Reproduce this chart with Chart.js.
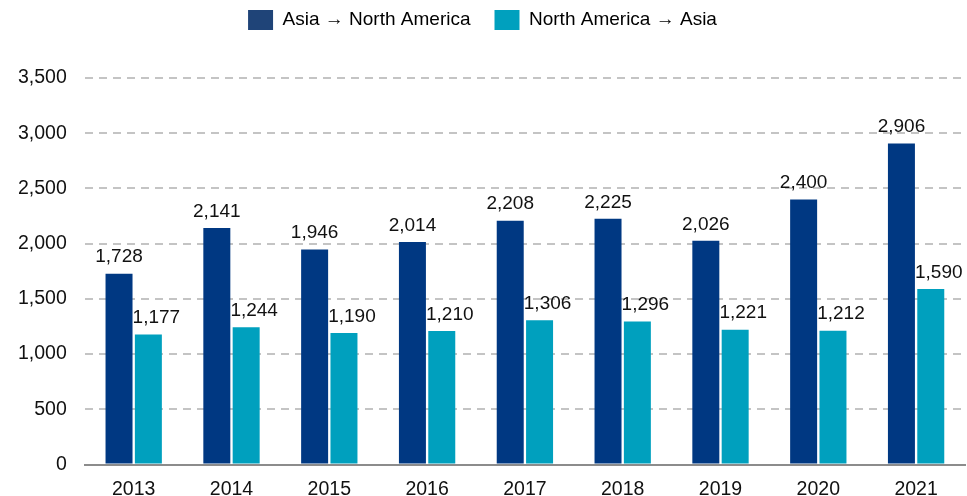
<!DOCTYPE html>
<html>
<head>
<meta charset="utf-8">
<script src="https://cdn.jsdelivr.net/npm/chart.js@4.4.0/dist/chart.umd.min.js"></script>
<style>
  html, body { margin: 0; padding: 0; background: #fff; }
  #wrap { width: 967px; height: 496px; }
</style>
</head>
<body>
<div id="wrap"><canvas id="flowChart"></canvas></div>
<script>
var years = ['2013', '2014', '2015', '2016', '2017', '2018', '2019', '2020', '2021'];
var asiaToNA = [1728, 2141, 1946, 2014, 2208, 2225, 2026, 2400, 2906];
var naToAsia = [1177, 1244, 1190, 1210, 1306, 1296, 1221, 1212, 1590];
var seriesNames = ['Asia \u2192 North America', 'North America \u2192 Asia'];

var FONT = '"Liberation Sans", Arial, sans-serif';

// labels above each bar (the teal ones sit a little to the right)
var labelShift = [0, 8];
var valueLabels = {
    id: 'valueLabels',
    afterDatasetsDraw: function(chart) {
        var c = chart.ctx;
        c.save();
        c.font = '19px ' + FONT;
        c.fillStyle = '#111';
        c.textAlign = 'center';
        c.textBaseline = 'bottom';
        chart.data.datasets.forEach(function(ds, i) {
            chart.getDatasetMeta(i).data.forEach(function(bar, j) {
                c.fillText(ds.data[j].toLocaleString('en-US'), bar.x + labelShift[i], bar.y - 7);
            });
        });
        c.restore();
    }
};

// make the legend block taller so the plot starts lower
var legendHeight = {
    id: 'legendHeight',
    beforeInit: function(chart) {
        var fit = chart.legend.fit;
        chart.legend.fit = function() {
            fit.bind(chart.legend)();
            this.height = 92;
        };
    }
};

var legendColors = ['#1F4478', '#00A0BE'];

new Chart(document.getElementById('flowChart'), {
    type: 'bar',
    data: {
        labels: years,
        datasets: [{
            label: seriesNames[0],
            data: asiaToNA,
            backgroundColor: '#003882'
        }, {
            label: seriesNames[1],
            data: naToAsia,
            backgroundColor: '#00A0BE'
        }]
    },
    options: {
        responsive: true,
        maintainAspectRatio: false,
        animation: false,
        layout: { padding: { left: 0, right: 2, top: -14, bottom: -18 } },
        datasets: {
            bar: { categoryPercentage: 0.6, barPercentage: 0.92 }
        },
        scales: {
            x: {
                grid: { display: false, drawTicks: false },
                border: { display: true, color: '#8c8c8c', width: 2 },
                ticks: {
                    color: '#111',
                    padding: 15,
                    font: { family: FONT, size: 19.5, lineHeight: 1 }
                }
            },
            y: {
                min: 0,
                max: 3500,
                ticks: {
                    stepSize: 500,
                    color: '#111',
                    padding: 18,
                    font: { family: FONT, size: 19.5 },
                    callback: function(value) { return value.toLocaleString('en-US'); }
                },
                grid: {
                    color: '#c4c4c4',
                    lineWidth: 2,
                    drawTicks: false
                },
                border: { display: false, dash: [8, 6] }
            }
        },
        plugins: {
            legend: {
                position: 'top',
                labels: {
                    boxWidth: 25,
                    boxHeight: 20,
                    padding: 24,
                    color: '#111',
                    font: { family: FONT, size: 19 },
                    generateLabels: function(chart) {
                        return chart.data.datasets.map(function(ds, i) {
                            return {
                                text: ds.label,
                                fillStyle: legendColors[i],
                                strokeStyle: legendColors[i],
                                lineWidth: 0,
                                datasetIndex: i
                            };
                        });
                    }
                }
            },
            tooltip: { enabled: false }
        }
    },
    plugins: [valueLabels, legendHeight]
});
</script>
</body>
</html>
